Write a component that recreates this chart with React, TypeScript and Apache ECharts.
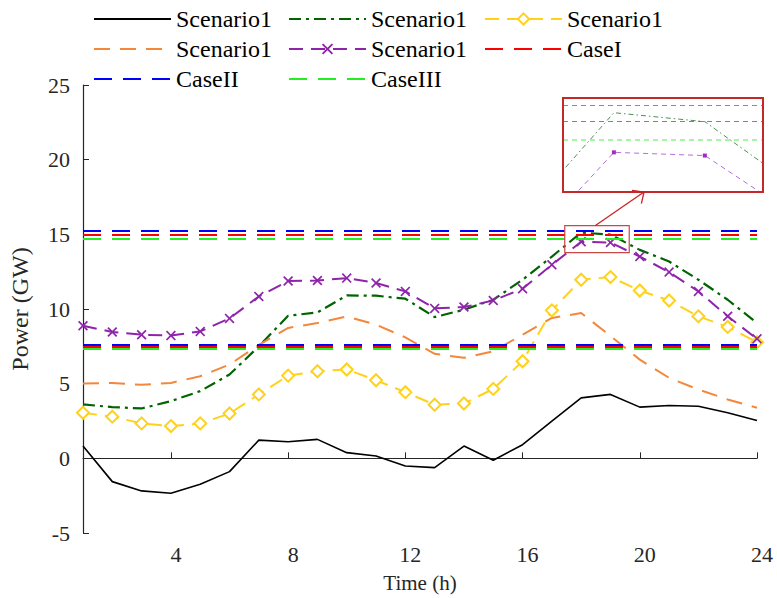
import React, { useEffect, useRef } from 'react';
import * as echarts from 'echarts';

const hours = [1, 2, 3, 4, 5, 6, 7, 8, 9, 10, 11, 12, 13, 14, 15, 16, 17, 18, 19, 20, 21, 22, 23, 24];
const xTicks = [4, 8, 12, 16, 20, 24];

const scenarioBlack = [0.82, -1.56, -2.18, -2.34, -1.74, -0.89, 1.22, 1.11, 1.27, 0.38, 0.16, -0.51, -0.62, 0.82, -0.13, 0.91, 2.49, 4.05, 4.28, 3.43, 3.54, 3.49, 3.05, 2.54];
const scenarioGreen = [3.61, 3.43, 3.34, 3.83, 4.5, 5.61, 7.5, 9.55, 9.77, 10.91, 10.89, 10.69, 9.46, 9.95, 10.62, 11.96, 13.51, 15.12, 14.98, 13.96, 13.18, 11.96, 10.62, 9.06];
const scenarioYellow = [3.05, 2.79, 2.34, 2.16, 2.34, 3.0, 4.28, 5.54, 5.83, 5.95, 5.23, 4.43, 3.59, 3.67, 4.65, 6.5, 9.91, 11.96, 12.14, 11.24, 10.57, 9.51, 8.8, 7.77];
const scenarioOrange = [5.01, 5.05, 4.92, 5.05, 5.5, 6.28, 7.6, 8.73, 9.06, 9.5, 8.95, 8.1, 7.0, 6.73, 7.17, 8.28, 9.4, 9.73, 8.2, 6.61, 5.39, 4.61, 3.94, 3.39];
const scenarioPurple = [8.88, 8.46, 8.28, 8.22, 8.5, 9.37, 10.84, 11.87, 11.91, 12.07, 11.74, 11.18, 10.04, 10.13, 10.57, 11.36, 12.96, 14.5, 14.45, 13.51, 12.47, 11.18, 9.51, 8.0];

const caseI = [14.98, 7.48];
const caseII = [15.23, 7.62];
const caseIII = [14.7, 7.33];

const zoomX = [17.44, 19.64];
const zoomY = [13.88, 15.35];
const zoomRectY = [13.78, 15.58];

const legendLabels: Record<string, string> = {
  s1: 'Scenario1',
  s2: 'Scenario1',
  s3: 'Scenario1',
  s4: 'Scenario1',
  s5: 'Scenario1',
  c1: 'CaseI',
  c2: 'CaseII',
  c3: 'CaseIII',
};

const FONT = 'Liberation Serif';
const AX = '#262626';
const X_SYMBOL = 'path://M0,1.2 L1.2,0 L5,3.8 L8.8,0 L10,1.2 L6.2,5 L10,8.8 L8.8,10 L5,6.2 L1.2,10 L0,8.8 L3.8,5 Z';

export default function App() {
  const ref = useRef<HTMLDivElement>(null);
  useEffect(() => {
    const chart = echarts.init(ref.current!, null, { renderer: 'svg' });
    const pairs = (arr: number[]) => hours.map((h, i) => [h, arr[i]]);
    const hLines = (vals: number[], color: string, width: number, dash: number[], opacity = 1) => ({
      symbol: ['none', 'none'],
      silent: true,
      label: { show: false },
      lineStyle: { color, width, type: dash, opacity },
      data: vals.map((v) => ({ yAxis: v })),
    });
    const plain = (name: string) => ({ name, itemStyle: { opacity: 0 } });
    const legendBase = {
      orient: 'vertical',
      top: 2,
      padding: 5,
      itemWidth: 77,
      itemHeight: 14,
      itemGap: 6,
      selectedMode: false,
      formatter: (n: string) => legendLabels[n],
      textStyle: { fontFamily: FONT, fontSize: 24, color: '#000' },
    };
    const option: any = {
      animation: false,
      backgroundColor: '#fff',
      legend: [
        { ...legendBase, left: 88, data: [plain('s1'), plain('s4'), plain('c2')] },
        { ...legendBase, left: 283, data: [plain('s2'), 's5', plain('c3')] },
        { ...legendBase, left: 479, data: ['s3', plain('c1')] },
      ],
      grid: [
        { left: 83, right: 20, top: 85, bottom: 64 },
        { left: 563, top: 98, width: 200, height: 94 },
      ],
      xAxis: [
        {
          type: 'value',
          min: 1,
          max: 24,
          name: 'Time (h)',
          nameLocation: 'middle',
          nameGap: 39,
          nameTextStyle: { fontFamily: FONT, fontSize: 21, color: AX },
          axisLine: { lineStyle: { color: AX, width: 1.2 } },
          axisTick: { inside: true, length: 6, customValues: xTicks, lineStyle: { color: AX } },
          axisLabel: { customValues: xTicks, fontFamily: FONT, fontSize: 22, color: AX, margin: 10, padding: [0, 0, 0, 10] },
          splitLine: { show: false },
        },
        { type: 'value', gridIndex: 1, min: zoomX[0], max: zoomX[1], show: false },
      ],
      yAxis: [
        {
          type: 'value',
          min: -5,
          max: 25,
          interval: 5,
          name: 'Power (GW)',
          nameLocation: 'middle',
          nameGap: 51,
          nameTextStyle: { fontFamily: FONT, fontSize: 24, color: AX },
          axisLine: { show: true, lineStyle: { color: AX, width: 1.2 } },
          axisTick: { show: true, inside: true, length: 6, lineStyle: { color: AX } },
          axisLabel: { fontFamily: FONT, fontSize: 22, color: AX, margin: 13, padding: [8, 0, 0, 0] },
          splitLine: { show: false },
        },
        { type: 'value', gridIndex: 1, min: zoomY[0], max: zoomY[1], show: false },
      ],
      series: [
        {
          name: 's1', type: 'line', data: pairs(scenarioBlack), symbol: 'none',
          lineStyle: { color: '#000', width: 1.6 }, itemStyle: { color: '#000' },
        },
        {
          name: 's2', type: 'line', data: pairs(scenarioGreen), symbol: 'none',
          lineStyle: { color: '#006400', width: 2.2, type: [12, 5, 3, 5] }, itemStyle: { color: '#006400' },
        },
        {
          name: 's3', type: 'line', data: pairs(scenarioYellow), symbol: 'emptyDiamond', symbolSize: 12,
          lineStyle: { color: '#FFD21A', width: 2, type: [14, 8] },
          itemStyle: { color: '#FFD21A', borderColor: '#FFD21A', borderWidth: 2 },
        },
        {
          name: 's4', type: 'line', data: pairs(scenarioOrange), symbol: 'none',
          lineStyle: { color: '#F4873A', width: 2, type: [16, 10] }, itemStyle: { color: '#F4873A' },
        },
        {
          name: 's5', type: 'line', data: pairs(scenarioPurple), symbol: X_SYMBOL, symbolSize: 10,
          lineStyle: { color: '#8E24AA', width: 2, type: [14, 8] }, itemStyle: { color: '#8E24AA' },
        },
        {
          name: 'c1', type: 'line', data: [], symbol: 'none',
          lineStyle: { color: '#FF0000', width: 2, type: [18, 11] }, itemStyle: { color: '#FF0000' },
          markLine: hLines(caseI, '#FF0000', 2, [18, 11]),
        },
        {
          name: 'c2', type: 'line', data: [], symbol: 'none',
          lineStyle: { color: '#0000FF', width: 2, type: [18, 11] }, itemStyle: { color: '#0000FF' },
          markLine: hLines(caseII, '#0000FF', 2, [18, 11]),
        },
        {
          name: 'c3', type: 'line', data: [], symbol: 'none',
          lineStyle: { color: '#22EE22', width: 2, type: [18, 11] }, itemStyle: { color: '#22EE22' },
          markLine: hLines(caseIII, '#22EE22', 2, [18, 11]),
        },
        // inset copies
        {
          name: 'z1', type: 'line', xAxisIndex: 1, yAxisIndex: 1, data: [], symbol: 'none', clip: true,
          markLine: hLines(caseI, '#E03030', 1, [5, 4], 0.8),
        },
        {
          name: 'z2', type: 'line', xAxisIndex: 1, yAxisIndex: 1, data: [], symbol: 'none', clip: true,
          markLine: hLines(caseII, '#4444FF', 1, [5, 4], 0.7),
        },
        {
          name: 'z3', type: 'line', xAxisIndex: 1, yAxisIndex: 1, data: [], symbol: 'none', clip: true,
          markLine: hLines(caseIII, '#55EE55', 1.5, [5, 4], 0.7),
        },
        {
          name: 'z4', type: 'line', xAxisIndex: 1, yAxisIndex: 1, data: pairs(scenarioGreen), symbol: 'none', clip: true,
          lineStyle: { color: '#2E7D32', width: 1, type: [5, 3, 1.5, 3], opacity: 0.85 },
        },
        {
          name: 'z5', type: 'line', xAxisIndex: 1, yAxisIndex: 1, data: pairs(scenarioPurple), symbol: 'rect', symbolSize: 4, clip: true,
          lineStyle: { color: '#A855D0', width: 1, type: [5, 4], opacity: 0.85 },
          itemStyle: { color: '#9B30C0' },
        },
      ],
    };
    chart.setOption(option);

    const p1 = chart.convertToPixel({ gridIndex: 0 } as any, [zoomX[0], zoomRectY[1]]) as number[];
    const p2 = chart.convertToPixel({ gridIndex: 0 } as any, [zoomX[1], zoomRectY[0]]) as number[];
    const q1 = chart.convertToPixel({ gridIndex: 1 } as any, [zoomX[0], zoomY[1]]) as number[];
    const q2 = chart.convertToPixel({ gridIndex: 1 } as any, [zoomX[1], zoomY[0]]) as number[];
    const start = [p1[0] + (p2[0] - p1[0]) * 0.47, p1[1]];
    const tip = [q1[0] + (q2[0] - q1[0]) * 0.405, q2[1]];
    chart.setOption({
      graphic: [
        {
          type: 'rect',
          shape: { x: p1[0], y: p1[1], width: p2[0] - p1[0], height: p2[1] - p1[1] },
          style: { fill: 'none', stroke: '#C84848', lineWidth: 1.2 },
          z: 100,
        },
        {
          type: 'rect',
          shape: { x: q1[0], y: q1[1], width: q2[0] - q1[0], height: q2[1] - q1[1] },
          style: { fill: 'none', stroke: '#C62828', lineWidth: 2 },
          z: 100,
        },
        {
          type: 'line',
          shape: { x1: start[0], y1: start[1], x2: tip[0], y2: tip[1] },
          style: { stroke: '#CC2222', lineWidth: 1.3 },
          z: 100,
        },
        {
          type: 'polyline',
          shape: { points: [[tip[0] - 12, tip[1] - 1.7], tip, [tip[0] - 2.6, tip[1] + 11.6]] },
          style: { fill: 'none', stroke: '#CC2222', lineWidth: 1.3 },
          z: 100,
        },
      ],
    });
    return () => chart.dispose();
  }, []);
  return <div ref={ref} style={{ position: 'fixed', left: 0, top: 0, width: 777, height: 598 }} />;
}
